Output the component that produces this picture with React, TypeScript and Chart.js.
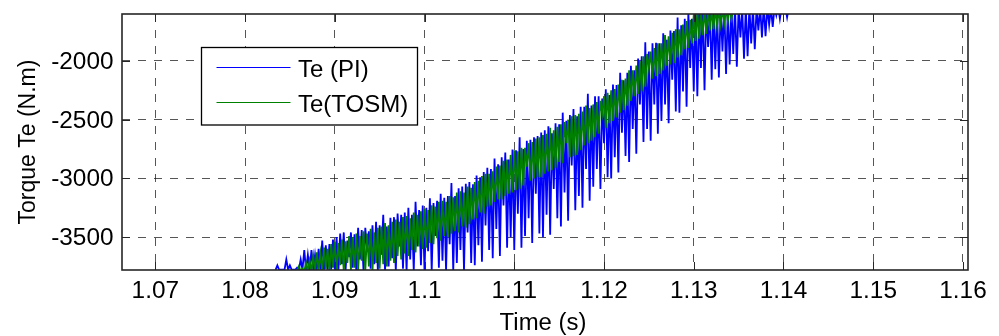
import React, { useEffect, useRef } from "react";
import { Chart, registerables } from "chart.js";

Chart.register(...registerables);

// ---- axis ranges and ticks ----
const X_MIN = 1.06629;
const X_MAX = 1.16056;
const Y_MIN = -3780;
const Y_MAX = -1600;
const X_TICKS = [1.07, 1.08, 1.09, 1.1, 1.11, 1.12, 1.13, 1.14, 1.15, 1.16];
const X_TICK_LABELS = ["1.07", "1.08", "1.09", "1.1", "1.11", "1.12", "1.13", "1.14", "1.15", "1.16"];
const Y_TICKS = [-3500, -3000, -2500, -2000];
const Y_TICK_LABELS = ["-3500", "-3000", "-2500", "-2000"];
const X_TITLE = "Time (s)";
const Y_TITLE = "Torque Te (N.m)";
const SERIES_LABELS = ["Te (PI)", "Te(TOSM)"];

// ---- Te (PI): samples every 0.2 ms starting at t = 1.0834 s ----
const PI_T0 = 1.0834;
const PI_DT = 0.0002;
const PI_VALUES = [
  -3778, -3740, -3778, -3778, -3778, -3778, -3690, -3778, -3740, -3778,
  -3778, -3778, -3760, -3778, -3690, -3778, -3610, -3778, -3650, -3778,
  -3610, -3778, -3650, -3778, -3600, -3778, -3530, -3778, -3570, -3778,
  -3560, -3778, -3520, -3778,
  -3500, -3790, -3470, -3730, -3460, -3790, -3530, -3670, -3460, -3760,
  -3475, -3790, -3420, -3690, -3440, -3790, -3420, -3610, -3450, -3770,
  -3400, -3730, -3370, -3790, -3400, -3650, -3310, -3790, -3410, -3750,
  -3335, -3680, -3330, -3790, -3300, -3580, -3310, -3770, -3290, -3790,
  -3250, -3690, -3310, -3790, -3200, -3580, -3270, -3740, -3230, -3790,
  -3250, -3620, -3170, -3790, -3210, -3490, -3190, -3760, -3130, -3700,
  -3165, -3790, -3150, -3560, -3040, -3790, -3150, -3720, -3085, -3610,
  -3070, -3790, -3045, -3460, -3030, -3720, -3050, -3740, -2975, -3570,
  -2990, -3710, -2945, -3400, -2910, -3610, -2920, -3680, -2830, -3430,
  -2880, -3660, -2820, -3230, -2780, -3590, -2840, -3500, -2755, -3610,
  -2760, -3300, -2650, -3590, -2750, -3490, -2680, -3340, -2670, -3550,
  -2650, -3130, -2640, -3470, -2610, -3500, -2590, -3310, -2555, -3480,
  -2615, -3090, -2530, -3340, -2540, -3410, -2440, -3120, -2510, -3360,
  -2460, -2890, -2410, -3270, -2470, -3150, -2390, -3250, -2390, -2920,
  -2280, -3190, -2380, -3070, -2300, -2920, -2300, -3090, -2320, -2700,
  -2240, -2990, -2290, -3000, -2200, -2820, -2205, -2950, -2100, -2610,
  -2165, -2810, -2100, -2860, -2040, -2580, -2080, -2790, -1980, -2370,
  -1960, -2690, -1840, -2580, -1920, -2680, -1850, -2370, -1845, -2620,
  -1850, -2510, -1765, -2370, -1820, -2530, -1740, -2160, -1745, -2430,
  -1630, -2440, -1695, -2260, -1640, -2390, -1585, -2060, -1640, -2260,
  -1560, -2300, -1540, -2060, -1530, -2250, -1550, -1880, -1540, -2160,
  -1530, -2070, -1550, -2140, -1540, -1920, -1530, -2110, -1550, -2030,
  -1540, -1940, -1530, -2050, -1540, -1800, -1550, -1980, -1540, -1960,
  -1530, -1850, -1540, -1900, -1550, -1740, -1540, -1800, -1530, -1790,
  -1540, -1690, -1550, -1710, -1540, -1610, -1530, -1640, -1540, -1580,
  -1540, -1628, -1540,
];

// ---- Te(TOSM): samples every 0.2 ms starting at t = 1.0858 s ----
const TOSM_T0 = 1.0858;
const TOSM_DT = 0.0002;
const TOSM_VALUES = [
  -3790, -3750, -3790, -3770, -3790, -3720, -3790, -3700, -3790, -3660,
  -3790, -3630, -3780, -3640, -3790, -3590, -3770, -3600, -3790, -3560,
  -3760, -3540, -3790, -3550, -3740, -3520, -3790, -3535, -3720, -3490,
  -3780, -3500, -3760, -3470, -3790, -3490, -3700, -3450, -3790, -3470,
  -3750, -3430, -3790, -3460, -3720, -3420, -3770, -3410, -3730, -3380,
  -3750, -3400, -3700, -3370, -3720, -3350, -3660, -3370, -3690, -3330,
  -3640, -3320, -3660, -3340, -3610, -3290, -3630, -3310, -3580, -3280,
  -3600, -3260, -3590, -3270, -3550, -3230, -3560, -3240, -3510, -3200,
  -3530, -3190, -3490, -3200, -3500, -3150, -3470, -3160, -3450, -3120,
  -3460, -3110, -3410, -3120, -3420, -3070, -3390, -3080, -3350, -3030,
  -3340, -3020, -3290, -2980, -3300, -2960, -3240, -2960, -3230, -2940,
  -3200, -2900, -3180, -2890, -3180, -2850, -3150, -2840, -3130, -2800,
  -3120, -2760, -3100, -2770, -3090, -2740, -3060, -2740, -2900, -2700,
  -3020, -2690, -3000, -2660, -2990, -2650, -2990, -2630, -2960, -2620,
  -2940, -2570, -2930, -2590, -2910, -2560, -2860, -2540, -2870, -2520,
  -2700, -2500, -2820, -2470, -2810, -2460, -2800, -2450, -2760, -2430,
  -2720, -2380, -2700, -2400, -2680, -2370, -2650, -2350, -2620, -2340,
  -2450, -2300, -2570, -2270, -2530, -2250, -2510, -2240, -2480, -2200,
  -2440, -2160, -2420, -2150, -2380, -2080, -2340, -2080, -2300, -2040,
  -2280, -2000, -2260, -1960, -2220, -1940, -2060, -1920, -2150, -1890,
  -2130, -1850, -2110, -1850, -2080, -1780, -2040, -1790, -2030, -1760,
  -2020, -1730, -1970, -1730, -1950, -1690, -1900, -1660, -1890, -1650,
  -1850, -1610, -1830, -1580, -1810, -1570, -1780, -1560, -1770, -1550,
  -1740, -1560, -1730, -1550, -1700, -1560, -1690, -1550, -1680, -1560,
  -1660, -1550, -1640, -1560,
];

const BLUE = "#0000ff";
const GREEN = "#008000";
const FONT = '"Liberation Sans", Arial, Helvetica, sans-serif';

function drawText(
  ctx: CanvasRenderingContext2D,
  s: string,
  x: number,
  y: number,
  align: CanvasTextAlign,
  size: number,
  sx = 1,
  rot = 0
) {
  ctx.save();
  ctx.translate(x, y);
  if (rot) ctx.rotate(rot);
  ctx.scale(sx, 1);
  ctx.font = `${size}px ${FONT}`;
  ctx.textAlign = align;
  ctx.textBaseline = "alphabetic";
  ctx.fillStyle = "#000";
  ctx.fillText(s, 0, 0);
  ctx.restore();
}

const matlabAxes = {
  id: "matlabAxes",
  afterDraw(chart: any) {
    const { ctx, chartArea: a, scales } = chart;
    const xs = scales.x;
    const ys = scales.y;
    ctx.save();

    // inward tick marks
    ctx.strokeStyle = "#262626";
    ctx.lineWidth = 1;
    const tl = 8;
    ctx.beginPath();
    X_TICKS.forEach((v) => {
      const x = Math.round(xs.getPixelForValue(v)) + 0.5;
      ctx.moveTo(x, a.bottom);
      ctx.lineTo(x, a.bottom - tl);
      ctx.moveTo(x, a.top);
      ctx.lineTo(x, a.top + tl);
    });
    Y_TICKS.forEach((v) => {
      const y = Math.round(ys.getPixelForValue(v)) + 0.5;
      ctx.moveTo(a.left, y);
      ctx.lineTo(a.left + tl, y);
      ctx.moveTo(a.right, y);
      ctx.lineTo(a.right - tl, y);
    });
    ctx.stroke();

    // axes box
    ctx.lineWidth = 1.6;
    ctx.strokeStyle = "#262626";
    ctx.strokeRect(a.left, a.top, a.right - a.left, a.bottom - a.top);

    // tick labels
    X_TICKS.forEach((v, i) => {
      drawText(ctx, X_TICK_LABELS[i], xs.getPixelForValue(v), 298, "center", 23, 1.06);
    });
    Y_TICKS.forEach((v, i) => {
      drawText(ctx, Y_TICK_LABELS[i], 113.5, ys.getPixelForValue(v) + 8, "right", 23, 1.06);
    });

    // axis titles
    drawText(ctx, X_TITLE, (a.left + a.right) / 2 - 2, 330, "center", 23, 1.04);
    drawText(ctx, Y_TITLE, 35, (a.top + a.bottom) / 2, "center", 23, 1, -Math.PI / 2);

    // legend
    const lx = 201.5, ly = 47.5, lw = 216, lh = 77.5;
    ctx.fillStyle = "#fff";
    ctx.fillRect(lx, ly, lw, lh);
    ctx.lineWidth = 1.3;
    ctx.strokeStyle = "#000";
    ctx.strokeRect(lx, ly, lw, lh);
    ctx.lineWidth = 1;
    ctx.strokeStyle = BLUE;
    ctx.beginPath();
    ctx.moveTo(216.5, 67.5);
    ctx.lineTo(290.5, 67.5);
    ctx.stroke();
    ctx.strokeStyle = GREEN;
    ctx.beginPath();
    ctx.moveTo(216.5, 102.5);
    ctx.lineTo(290.5, 102.5);
    ctx.stroke();
    drawText(ctx, SERIES_LABELS[0], 298, 76.5, "left", 24);
    drawText(ctx, SERIES_LABELS[1], 298, 111.5, "left", 24);

    ctx.restore();
  },
};

export default function App() {
  const ref = useRef<HTMLCanvasElement>(null);

  useEffect(() => {
    if (!ref.current) return;
    const piData = PI_VALUES.map((v, i) => ({ x: PI_T0 + i * PI_DT, y: v }));
    const tosmData = TOSM_VALUES.map((v, i) => ({ x: TOSM_T0 + i * TOSM_DT, y: v }));

    const gridOpts = {
      color: "rgba(30,30,30,0.75)",
      lineWidth: 1,
      drawTicks: false,
    };

    const chart = new Chart(ref.current, {
      type: "line",
      data: {
        datasets: [
          {
            label: SERIES_LABELS[1],
            data: tosmData,
            borderColor: GREEN,
            borderWidth: 1.8,
            pointRadius: 0,
            tension: 0,
            fill: false,
          },
          {
            label: SERIES_LABELS[0],
            data: piData,
            borderColor: BLUE,
            borderWidth: 1.8,
            pointRadius: 0,
            tension: 0,
            fill: false,
          },
        ],
      },
      options: {
        responsive: false,
        animation: false,
        events: [],
        layout: { padding: { left: 122, top: 14, right: 31, bottom: 66 } },
        plugins: {
          legend: { display: false },
          tooltip: { enabled: false },
          title: { display: false },
        },
        scales: {
          x: {
            type: "linear",
            min: X_MIN,
            max: X_MAX,
            ticks: { display: false },
            grid: gridOpts,
            border: { display: false, dash: [8, 8] },
            afterBuildTicks: (s: any) => {
              s.ticks = X_TICKS.map((v) => ({ value: v }));
            },
            afterFit: (s: any) => {
              s.height = 0;
            },
          },
          y: {
            type: "linear",
            min: Y_MIN,
            max: Y_MAX,
            ticks: { display: false },
            grid: gridOpts,
            border: { display: false, dash: [8, 8] },
            afterBuildTicks: (s: any) => {
              s.ticks = Y_TICKS.map((v) => ({ value: v }));
            },
            afterFit: (s: any) => {
              s.width = 0;
            },
          },
        },
      },
      plugins: [matlabAxes],
    } as any);

    return () => chart.destroy();
  }, []);

  return (
    <div style={{ position: "absolute", left: 0, top: 0, width: 999, height: 336, background: "#fff" }}>
      <canvas ref={ref} width={999} height={336} style={{ display: "block", width: 999, height: 336 }} />
    </div>
  );
}
